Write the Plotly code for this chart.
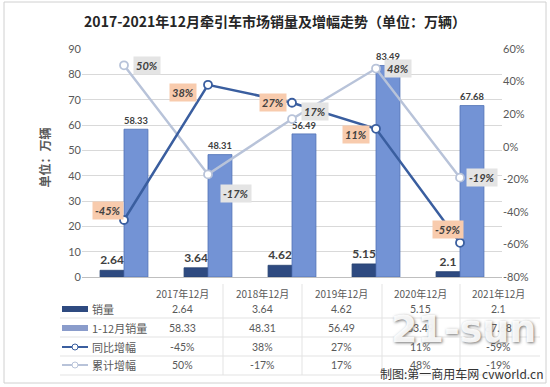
import plotly.graph_objects as go

categories = ["2017年12月", "2018年12月", "2019年12月", "2020年12月", "2021年12月"]
monthly_sales = [2.64, 3.64, 4.62, 5.15, 2.1]
annual_sales = [58.33, 48.31, 56.49, 83.49, 67.68]
yoy_growth = [-45, 38, 27, 11, -59]
cum_growth = [50, -17, 17, 48, -19]
series_names = ["销量", "1-12月销量", "同比增幅", "累计增幅"]
left_ticks = list(range(0, 91, 10))
right_ticks = list(range(-80, 61, 20))

W, H = 550, 387
L, R, T, B = 82, 48, 49, 110
PW, PH = W - L - R, H - T - B


def px(x):
    return (x - L) / PW


def py(y):
    return (H - B - y) / PH


FONT = "Lato, Noto Sans CJK SC, sans-serif"
CJK = "Noto Sans CJK SC, sans-serif"
DARK = "#2E4A80"
LIGHT = "#7393D5"
YOY_C = "#3A5E9F"
CUM_C = "#B8C3D9"
GRID = "#D9D9D9"
TXT = "#595959"

fig = go.Figure()
fig.add_trace(go.Bar(x=categories, y=monthly_sales, name=series_names[0],
                     marker=dict(color=DARK, line=dict(color="#25406F", width=0.8)),
                     text=[f"{v:g}" for v in monthly_sales], textposition="outside",
                     textfont=dict(family=FONT, size=12, color="#404040", weight="bold"),
                     cliponaxis=False))
fig.add_trace(go.Bar(x=categories, y=annual_sales, name=series_names[1],
                     marker=dict(color=LIGHT, line=dict(color="#5272B5", width=0.8)),
                     text=[f"{v:g}" for v in annual_sales], textposition="outside",
                     textfont=dict(family=FONT, size=12, color="#404040", weight="bold"),
                     cliponaxis=False))
fig.add_trace(go.Scatter(x=categories, y=cum_growth, yaxis="y2", mode="lines+markers",
                         name=series_names[3],
                         line=dict(color=CUM_C, width=2.5),
                         marker=dict(symbol="circle", size=8, color="white",
                                     line=dict(color=CUM_C, width=1.8)),
                         cliponaxis=False))
fig.add_trace(go.Scatter(x=categories, y=yoy_growth, yaxis="y2", mode="lines+markers",
                         name=series_names[2],
                         line=dict(color=YOY_C, width=2.5),
                         marker=dict(symbol="circle", size=8, color="white",
                                     line=dict(color=YOY_C, width=1.8)),
                         cliponaxis=False))

annotations = []
yoy_shift = [(-16, 10), (-25, -8), (-19, 0), (-20, -6), (-12, 13)]
cum_shift = [(23, 0), (28, -19), (23, 8), (22, 0), (22, 0)]
for i, c in enumerate(categories):
    annotations.append(dict(x=c, y=yoy_growth[i], xref="x", yref="y2", text=f"{yoy_growth[i]}%",
                            showarrow=False, xshift=yoy_shift[i][0], yshift=yoy_shift[i][1],
                            bgcolor="#F8CBAD", borderpad=2,
                            font=dict(family=FONT, size=11, color="#404040", weight="bold", style="italic")))
    annotations.append(dict(x=c, y=cum_growth[i], xref="x", yref="y2", text=f"{cum_growth[i]}%",
                            showarrow=False, xshift=cum_shift[i][0], yshift=cum_shift[i][1],
                            bgcolor="#E4E4E4", borderpad=2,
                            font=dict(family=FONT, size=11, color="#404040", weight="bold", style="italic")))

# y-axis title
annotations.append(dict(x=px(33), y=py(158), xref="paper", yref="paper", text="单位：万辆",
                        textangle=-90, showarrow=False,
                        font=dict(family=CJK, size=12, color=TXT, weight="bold")))

# data table
col_x = [182, 262, 341, 420, 498]
row_y = [293, 309, 328, 347, 365]
rows = [
    [f"{v:g}" for v in monthly_sales],
    [f"{v:g}" for v in annual_sales],
    [f"{v}%" for v in yoy_growth],
    [f"{v}%" for v in cum_growth],
]
for j, c in enumerate(categories):
    annotations.append(dict(x=px(col_x[j]), y=py(row_y[0]), xref="paper", yref="paper", text=c,
                            showarrow=False, xanchor="center", yanchor="middle",
                            font=dict(family=CJK, size=10, color=TXT)))
    for r in range(4):
        annotations.append(dict(x=px(col_x[j]), y=py(row_y[r + 1]), xref="paper", yref="paper",
                                text=rows[r][j], showarrow=False, xanchor="center", yanchor="middle",
                                font=dict(family=FONT, size=10.5, color=TXT)))
for r in range(4):
    annotations.append(dict(x=px(90), y=py(row_y[r + 1]), xref="paper", yref="paper",
                            text=series_names[r], showarrow=False, xanchor="left", yanchor="middle",
                            font=dict(family=CJK, size=11, color=TXT)))

# watermarks
annotations.append(dict(x=px(463), y=py(329), xref="paper", yref="paper", text="21-sun",
                        showarrow=False, xanchor="center", yanchor="middle",
                        font=dict(family="DejaVu Sans, sans-serif", size=38, color="rgba(255,255,255,0.92)",
                                  weight="bold", shadow="1px 1px 3px rgba(90,90,90,0.9)")))
annotations.append(dict(x=px(545), y=py(373), xref="paper", yref="paper",
                        text="制图:第一商用车网 cvworld.cn", showarrow=False, xanchor="right",
                        yanchor="middle",
                        font=dict(family=CJK, size=12, color="#333333",
                                  shadow="0px 0px 2px white")))

shapes = []
# table grid lines
for yl in [318, 337, 356, 375]:
    shapes.append(dict(type="line", xref="paper", yref="paper", x0=px(60), x1=px(540),
                       y0=py(yl), y1=py(yl), line=dict(color="#E3E3E3", width=1)))
for xl in [223, 302, 382, 460]:
    shapes.append(dict(type="line", xref="paper", yref="paper", x0=px(xl), x1=px(xl),
                       y0=py(284), y1=py(375), line=dict(color="#E3E3E3", width=1)))
# legend keys
shapes.append(dict(type="rect", xref="paper", yref="paper", x0=px(62), x1=px(88),
                   y0=py(312), y1=py(306), fillcolor=DARK, line=dict(width=0)))
shapes.append(dict(type="rect", xref="paper", yref="paper", x0=px(62), x1=px(88),
                   y0=py(331), y1=py(325), fillcolor="#8A9CCB", line=dict(width=0)))
for yk, col in [(347, YOY_C), (365, CUM_C)]:
    shapes.append(dict(type="line", xref="paper", yref="paper", x0=px(62), x1=px(88),
                       y0=py(yk), y1=py(yk), line=dict(color=col, width=2)))
    shapes.append(dict(type="circle", xref="paper", yref="paper", x0=px(72), x1=px(78),
                       y0=py(yk + 3), y1=py(yk - 3), fillcolor="white", line=dict(color=col, width=1)))
# outer border
shapes.append(dict(type="rect", xref="paper", yref="paper", x0=px(4), x1=px(546),
                   y0=py(383), y1=py(2), line=dict(color="#D0D0D0", width=1)))

fig.update_layout(
    width=W, height=H,
    margin=dict(l=L, r=R, t=T, b=B, autoexpand=False),
    paper_bgcolor="white", plot_bgcolor="white",
    barmode="group", bargap=0.43, bargroupgap=0,
    showlegend=False,
    title=dict(text="2017-2021年12月牵引车市场销量及增幅走势（单位：万辆）",
               x=0.5, xref="container", xanchor="center",
               y=1 - 22 / H, yref="container", yanchor="middle", automargin=False,
               font=dict(family=CJK, size=14, color="#262626", weight="bold")),
    xaxis=dict(showticklabels=False, showgrid=False, showline=True, linecolor="#BFBFBF",
               ticks="", zeroline=False, automargin=False),
    yaxis=dict(range=[0, 90], tickvals=left_ticks, showgrid=True, gridcolor=GRID,
               zeroline=False, showline=False, ticks="", automargin=False,
               tickfont=dict(family=FONT, size=11, color=TXT)),
    yaxis2=dict(range=[-80, 60], tickvals=right_ticks, ticktext=[f"{v}%" for v in right_ticks],
                overlaying="y", side="right", showgrid=False, zeroline=False, showline=False,
                ticks="", automargin=False, tickfont=dict(family=FONT, size=11, color=TXT)),
    annotations=annotations,
    shapes=shapes,
)

fig.write_html("out.html", config={"displayModeBar": False},
               post_script="document.body.style.margin='0px';")
